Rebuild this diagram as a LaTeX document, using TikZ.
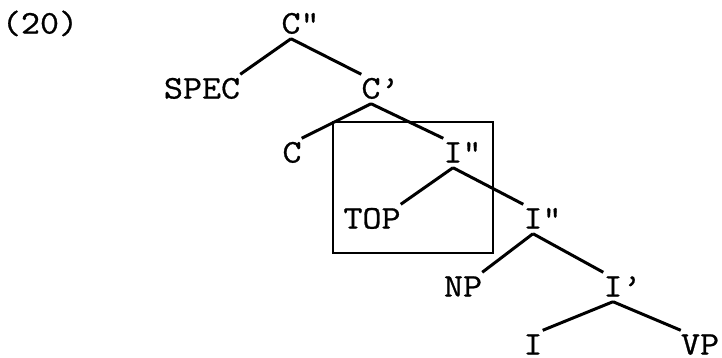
\documentclass[tikz,border=0pt]{standalone}
\usepackage{fontspec}
\setmonofont{Latin Modern Mono}[FakeStretch=1.12, FakeBold=0.8]
\usepackage{tikz}

\begin{document}
\begin{tikzpicture}[x=1pt, y=-1pt,
    cat/.style={font=\fontsize{33}{33}\selectfont\ttfamily, inner sep=0pt, text height=19pt, text depth=0pt},
    branch/.style={line width=3pt}]
  \useasboundingbox (0,0) rectangle (722,357);
  % Árbol con la caja alrededor de I" y TOP
  \node[cat] (ex) at (40,24) {(20)};
  \node[cat] (cpp) at (291,24) {C\rlap{"}};
  \node[cat] (spec) at (202,89) {SPEC};
  \node[cat] (cp) at (371,89) {C\rlap{’}};
  \node[cat] (c) at (292,153) {C};
  \node[cat] (ippa) at (453,153) {I\rlap{"}};
  \node[cat] (top) at (372,219) {TOP};
  \node[cat] (ippb) at (533,219) {I\rlap{"}};
  \node[cat] (np) at (463,287) {NP};
  \node[cat] (ip) at (613,287) {I\rlap{’}};
  \node[cat] (i) at (533,345) {I};
  \node[cat] (vp) at (700,345) {VP};
  \draw[line width=1.2pt] (333,122) rectangle (493,253);
  \draw[branch] ([yshift=-5pt]cpp.south) -- ([yshift=5pt]spec.north east);
  \draw[branch] ([yshift=-5pt]cpp.south) -- ([yshift=5pt]cp.north west);
  \draw[branch] ([yshift=-5pt]cp.south) -- ([yshift=5pt]c.north east);
  \draw[branch] ([yshift=-5pt]cp.south) -- ([yshift=5pt]ippa.north west);
  \draw[branch] ([yshift=-5pt]ippa.south) -- ([yshift=5pt]top.north east);
  \draw[branch] ([yshift=-5pt]ippa.south) -- ([yshift=5pt]ippb.north west);
  \draw[branch] ([yshift=-5pt]ippb.south) -- ([yshift=5pt]np.north east);
  \draw[branch] ([yshift=-5pt]ippb.south) -- ([yshift=5pt]ip.north west);
  \draw[branch] ([yshift=-5pt]ip.south) -- ([yshift=5pt]i.north east);
  \draw[branch] ([yshift=-5pt]ip.south) -- ([yshift=5pt]vp.north west);
\end{tikzpicture}
\end{document}
